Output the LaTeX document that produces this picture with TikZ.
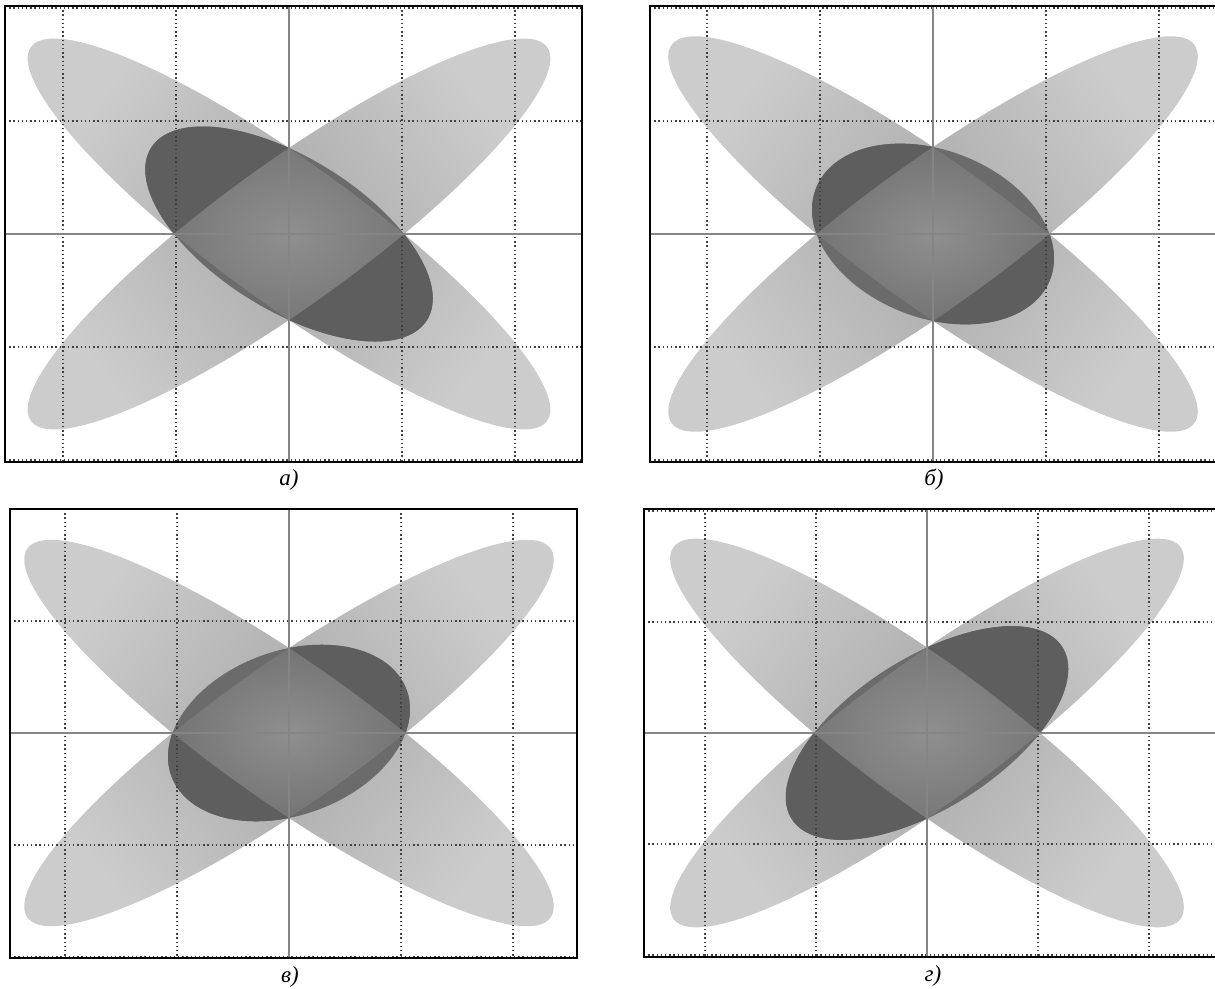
\documentclass[tikz,border=0pt]{standalone}
\usepackage{fontspec}
\setmainfont{Liberation Serif}
\def\pp{115}
\def\qq{86}
% ellipse of the pencil through (cx+-p,cy) and (cx,cy+-q); #3 = k in X^2+2kXY+Y^2=1
\newcommand\ellp[3]{plot[domain=0:357,samples=120,smooth cycle]({#1+\pp*(cos(\x)/sqrt(1+(#3))-sin(\x)/sqrt(1-(#3)))/1.41421},{#2+\qq*(cos(\x)/sqrt(1+(#3))+sin(\x)/sqrt(1-(#3)))/1.41421})}
\tikzset{
  longell/.style={top color=black!20, bottom color=black!20, middle color=black!33},
  gridline/.style={black!75, line width=1.4pt, dash pattern=on 1.3pt off 2.9pt},
  axisline/.style={black!48, line width=1.5pt},
  framebox/.style={black, line width=2.4pt},
  caption/.style={font=\itshape\fontsize{23}{27}\selectfont, inner sep=0pt},
}
% #1 cx, #2 cy, #3 k of dark ellipse, #4 k of long ellipse aligned with it, #5 grid step,
% #6 left, #7 right, #8 top, #9 bottom
\newcommand\drawpanel[9]{%
  \shade[longell, shading angle=53] \ellp{#1}{#2}{-0.898};
  \shade[longell, shading angle=-53] \ellp{#1}{#2}{0.898};
  \fill[black!58] \ellp{#1}{#2}{#3};
  \begin{scope}
    \clip \ellp{#1}{#2}{#3};
    \fill[black!63] \ellp{#1}{#2}{#4};
  \end{scope}
  \begin{scope}
    \clip \ellp{#1}{#2}{-0.898};
    \clip \ellp{#1}{#2}{0.898};
    \shade[inner color=black!44, outer color=black!55] \ellp{#1}{#2}{#3};
  \end{scope}
  \foreach \i in {-2,-1,0,1,2}{
    \draw[gridline] ({#1+\i*#5},#8) -- ({#1+\i*#5},#9);
    \draw[gridline] (#6,{#2+\i*#5}) -- (#7,{#2+\i*#5});
  }
  \draw[axisline] (#1,#8) -- (#1,#9);
  \draw[axisline] (#6,#2) -- (#7,#2);
  \draw[framebox] (#6,#8) rectangle (#7,#9);
}
\begin{document}
\begin{tikzpicture}[x=1pt,y=-1pt]
  \useasboundingbox (0,0) rectangle (1215,988);
  \clip (0,0) rectangle (1215,988);
  % panel a
  \def\pp{115}\def\qq{86}
  \drawpanel{289}{234}{-0.60}{-0.898}{113}{5}{582}{6}{462}
  % panel b
  \def\pp{116.5}\def\qq{87}
  \drawpanel{933}{234}{-0.27}{-0.898}{113}{650}{1228}{6}{462}
  % panel v
  \def\pp{116.5}\def\qq{85}
  \drawpanel{289}{733}{0.27}{0.898}{112}{10}{577}{509}{958}
  % panel g
  \def\pp{113}\def\qq{85.5}
  \drawpanel{927}{733}{0.60}{0.898}{111}{644}{1228}{509}{957}
  \node[caption] (capA) at (289,480) {а)};
  \node[caption] (capB) at (934,480) {б)};
  \node[caption] (capV) at (290,977) {в)};
  \node[caption] (capG) at (933,976) {г)};
\end{tikzpicture}
\end{document}
